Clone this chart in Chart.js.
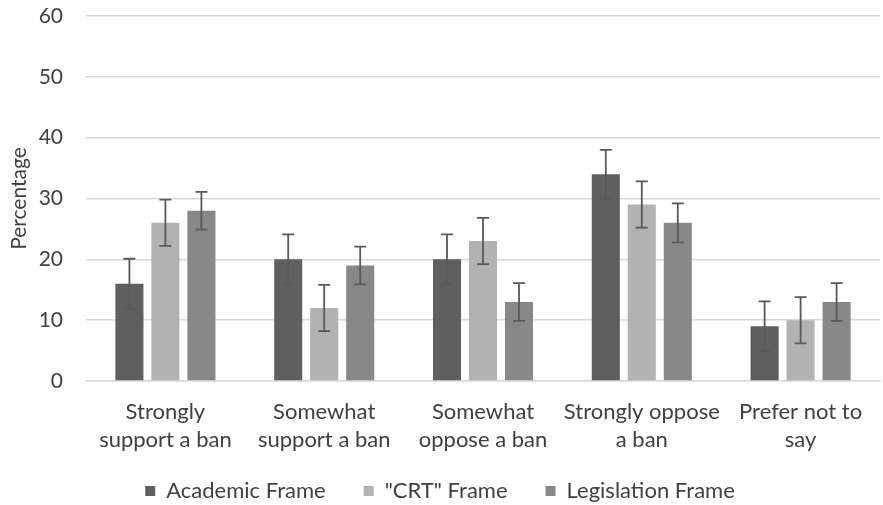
<!DOCTYPE html>
<html>
<head>
<meta charset="utf-8">
<script src="https://cdn.jsdelivr.net/npm/chart.js@4"></script>
<style>
  html, body { margin: 0; padding: 0; background: #ffffff; }
  #wrap { width: 883px; height: 505px; position: relative; }
</style>
</head>
<body>
<div id="wrap"><canvas id="c" width="883" height="505"></canvas></div>
<script>
// Response categories (multi-line axis labels)
const categories = [
  ["Strongly", "support a ban"],
  ["Somewhat", "support a ban"],
  ["Somewhat", "oppose a ban"],
  ["Strongly oppose", "a ban"],
  ["Prefer not to", "say"]
];

// Percentages per framing condition
const academicValues = [16, 20, 20, 34, 9];
const crtValues = [26, 12, 23, 29, 10];
const legislationValues = [28, 19, 13, 26, 13];

// Error margins (± percentage points) per framing condition
const academicErrors = [4.1, 4.1, 4.1, 4.0, 4.1];
const crtErrors = [3.8, 3.8, 3.8, 3.8, 3.8];
const legislationErrors = [3.1, 3.1, 3.1, 3.2, 3.1];

const yTicks = [0, 10, 20, 30, 40, 50, 60];

const FONT = "Lato, 'Open Sans', sans-serif";
const TEXT = '#404040';

// Draws symmetric error bars with caps over each bar
const errorBarPlugin = {
  id: 'errorBars',
  afterDatasetsDraw(chart) {
    const ctx = chart.ctx;
    const y = chart.scales.y;
    chart.data.datasets.forEach((ds, di) => {
      const meta = chart.getDatasetMeta(di);
      meta.data.forEach((bar, i) => {
        const v = ds.data[i];
        const e = ds.errors[i];
        const yTop = y.getPixelForValue(v + e);
        const yBot = y.getPixelForValue(v - e);
        const x = bar.x;
        ctx.save();
        ctx.strokeStyle = '#595959';
        ctx.lineWidth = 1.8;
        ctx.beginPath();
        ctx.moveTo(x, yTop); ctx.lineTo(x, yBot);
        ctx.moveTo(x - 6, yTop); ctx.lineTo(x + 6, yTop);
        ctx.moveTo(x - 6, yBot); ctx.lineTo(x + 6, yBot);
        ctx.stroke();
        ctx.restore();
      });
    });
  }
};

// Lets the two-line category labels extend below the x-axis box
const labelRoomPlugin = {
  id: 'labelRoom',
  afterLayout(chart) {
    chart.scales.x.bottom = chart.height;
  }
};

new Chart(document.getElementById('c'), {
  type: 'bar',
  data: {
    labels: categories,
    datasets: [
      { label: 'Academic Frame', data: academicValues, errors: academicErrors, backgroundColor: '#5f5f5f' },
      { label: '"CRT" Frame', data: crtValues, errors: crtErrors, backgroundColor: '#b2b2b2' },
      { label: 'Legislation Frame', data: legislationValues, errors: legislationErrors, backgroundColor: '#888888' }
    ]
  },
  options: {
    responsive: false,
    animation: false,
    layout: { padding: { top: 0, right: 3, left: 0, bottom: -7 } },
    datasets: {
      bar: { categoryPercentage: 0.68, barPercentage: 0.78, borderWidth: 0 }
    },
    plugins: {
      legend: {
        position: 'bottom',
        labels: {
          boxWidth: 10, boxHeight: 10, padding: 38,
          color: TEXT,
          font: { family: FONT, size: 22 }
        }
      },
      tooltip: { enabled: false }
    },
    scales: {
      x: {
        afterFit(scale) { scale.height = 61; },
        grid: { display: false, drawTicks: false },
        border: { color: '#d9d9d9', width: 1.5 },
        ticks: {
          color: TEXT, padding: 17, maxRotation: 0, autoSkip: false,
          font: { family: FONT, size: 22, lineHeight: 1.27 }
        }
      },
      y: {
        min: 0, max: 60,
        afterBuildTicks(scale) { scale.ticks = yTicks.map(v => ({ value: v })); },
        afterFit(scale) { scale.width = 86; scale.paddingTop = 16; scale.paddingBottom = 0; },
        grid: { color: '#d9d9d9', lineWidth: 1.5, drawTicks: false },
        border: { display: false },
        ticks: {
          color: TEXT, padding: 23,
          font: { family: FONT, size: 21 }
        },
        title: {
          display: true, text: 'Percentage', color: TEXT,
          font: { family: FONT, size: 21 }, padding: { top: 7, bottom: 4 }
        }
      }
    }
  },
  plugins: [errorBarPlugin, labelRoomPlugin]
});
</script>
</body>
</html>
